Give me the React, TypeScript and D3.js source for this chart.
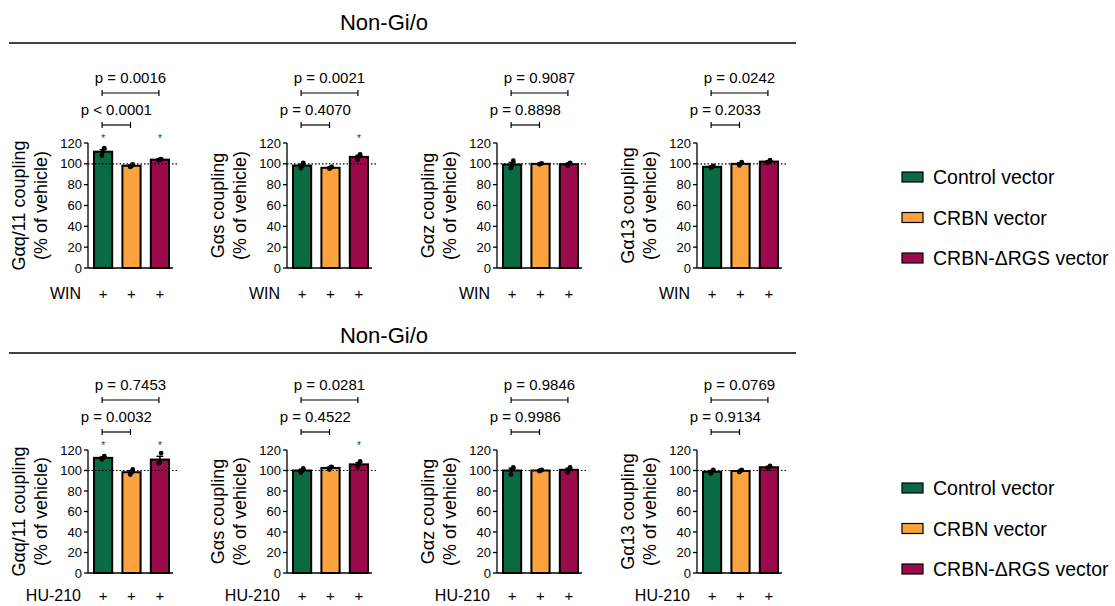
import React from 'react';
import * as d3 from 'd3';

// groups and colours
const groups = ['Control vector', 'CRBN vector', 'CRBN-ΔRGS vector'];
const colors = ['#0a6a44', '#fca23f', '#9c0a4c'];

const couplings = ['Gαq/11 coupling', 'Gαs coupling', 'Gαz coupling', 'Gα13 coupling'];
const yTicks = [0, 20, 40, 60, 80, 100, 120];

// individual replicate values (% of vehicle), per panel, per group
const winPoints = [
  [[108, 112, 115], [97, 98, 99.5], [103.5, 104, 104.5]],
  [[96, 98, 101], [95.5, 96, 97], [104, 107, 109]],
  [[96, 99, 103], [99.5, 100, 100.5], [98, 100, 101]],
  [[96.5, 97, 98], [98.5, 100, 101.5], [101, 102, 103.5]],
];
const huPoints = [
  [[111, 112, 114], [96, 98, 101], [107, 108, 117]],
  [[98, 100, 102], [101, 103, 103.5], [103, 106, 109]],
  [[96, 101, 103], [99.5, 100, 100.5], [98, 101, 103]],
  [[97, 99, 100.5], [98.5, 99.5, 100.5], [102, 103, 104.5]],
];

// p-values: [control vs CRBN, control vs CRBN-ΔRGS]
const winP = [
  ['p < 0.0001', 'p = 0.0016'],
  ['p = 0.4070', 'p = 0.0021'],
  ['p = 0.8898', 'p = 0.9087'],
  ['p = 0.2033', 'p = 0.0242'],
];
const huP = [
  ['p = 0.0032', 'p = 0.7453'],
  ['p = 0.4522', 'p = 0.0281'],
  ['p = 0.9986', 'p = 0.9846'],
  ['p = 0.9134', 'p = 0.0769'],
];

// significance stars vs vehicle
const winStars = [[1, 0, 1], [0, 0, 1], [0, 0, 0], [0, 0, 0]];
const huStars = [[1, 0, 1], [0, 0, 1], [0, 0, 0], [0, 0, 0]];

const FONT = "'Liberation Sans', Arial, Helvetica, sans-serif";
const axisXs = [88, 287, 497, 697];

const mean = (a: number[]) => d3.mean(a) as number;
const sem = (a: number[]) => (d3.deviation(a) as number) / Math.sqrt(a.length);

type RowProps = {
  points: number[][][];
  pvals: string[][];
  stars: number[][];
  drug: string;
  y0: number;
  y120: number;
  drugY: number;
  title: string;
  titleY: number;
  lineY: number;
  legendY: number;
};

const Panel = ({ ax, pts, pv, st, drug, y, drugY, label }: any) => {
  const x = d3.scaleBand<number>().domain([0, 1, 2]).range([ax + 6, ax + 81]).paddingInner(0.36).paddingOuter(0);
  const cx = (i: number) => (x(i) as number) + x.bandwidth() / 2;
  const [y0, y1] = y.range();
  const midY = (y0 + y1) / 2;
  const top = y(120);
  const brLow = top - 18;
  const brHigh = top - 50;
  return (
    <g>
      {/* y title */}
      <text transform={`translate(${ax - 69},${midY}) rotate(-90)`} textAnchor="middle" dominantBaseline="central" fontSize={18}>{label}</text>
      <text transform={`translate(${ax - 47},${midY}) rotate(-90)`} textAnchor="middle" dominantBaseline="central" fontSize={18}>(% of vehicle)</text>
      {/* bars */}
      {pts.map((p: number[], i: number) => {
        const m = mean(p);
        const s = sem(p);
        return (
          <g key={i}>
            <rect x={x(i)} y={y(m)} width={x.bandwidth()} height={y(0) - y(m)} fill={colors[i]} stroke="#000" strokeWidth={2} />
            <line x1={cx(i)} x2={cx(i)} y1={y(m - s)} y2={y(m + s)} stroke="#000" strokeWidth={1.5} />
            <line x1={cx(i) - 3.5} x2={cx(i) + 3.5} y1={y(m + s)} y2={y(m + s)} stroke="#000" strokeWidth={1.5} />
            {p.map((v, j) => (
              <circle key={j} cx={cx(i) + (j - 1) * 1.2} cy={y(v)} r={2.4} fill="#000" />
            ))}
            {st[i] ? (
              <text x={cx(i)} y={top - 1} textAnchor="middle" fontSize={10} fill="#333">*</text>
            ) : null}
            <text x={cx(i)} y={drugY} textAnchor="middle" fontSize={15}>+</text>
          </g>
        );
      })}
      {/* dotted reference line at 100 */}
      <line x1={ax} x2={ax + 91} y1={y(100)} y2={y(100)} stroke="#000" strokeWidth={1.2} strokeDasharray="1.5,2" />
      {/* axes */}
      <line x1={ax} x2={ax + 85} y1={y(0)} y2={y(0)} stroke="#000" strokeWidth={1.3} />
      <line x1={ax} x2={ax} y1={y(0)} y2={y(120)} stroke="#000" strokeWidth={1.3} />
      {yTicks.map((t) => (
        <g key={t}>
          <line x1={ax - 4} x2={ax} y1={y(t)} y2={y(t)} stroke="#000" strokeWidth={1.3} />
          <text x={ax - 6} y={y(t)} textAnchor="end" dominantBaseline="central" fontSize={13}>{t}</text>
        </g>
      ))}
      <text x={ax - 7} y={drugY} textAnchor="end" fontSize={16}>{drug}</text>
      {/* comparison brackets */}
      {[1, 2].map((k) => {
        const by = k === 1 ? brLow : brHigh;
        const x1 = cx(0) - 1;
        const x2 = cx(k) - 1;
        return (
          <g key={k}>
            <line x1={x1} x2={x2} y1={by} y2={by} stroke="#000" strokeWidth={1.2} />
            <line x1={x1} x2={x1} y1={by - 3} y2={by + 3} stroke="#000" strokeWidth={1.2} />
            <line x1={x2} x2={x2} y1={by - 3} y2={by + 3} stroke="#000" strokeWidth={1.2} />
            <text x={(x1 + x2) / 2} y={by - 10} textAnchor="middle" fontSize={15}>{pv[k - 1]}</text>
          </g>
        );
      })}
    </g>
  );
};

const Row = ({ points, pvals, stars, drug, y0, y120, drugY, title, titleY, lineY, legendY }: RowProps) => {
  const y = d3.scaleLinear().domain([0, 120]).range([y0, y120]);
  return (
    <g>
      <text x={384} y={titleY} textAnchor="middle" fontSize={22}>{title}</text>
      <line x1={9} x2={796} y1={lineY} y2={lineY} stroke="#000" strokeWidth={1.6} />
      {axisXs.map((ax, i) => (
        <Panel key={i} ax={ax} pts={points[i]} pv={pvals[i]} st={stars[i]} drug={drug} y={y} drugY={drugY} label={couplings[i]} />
      ))}
      {groups.map((g, i) => (
        <g key={g} transform={`translate(902,${legendY + i * 40.5})`}>
          <rect x={0} y={-5} width={21} height={10} fill={colors[i]} stroke="#000" strokeWidth={1.2} />
          <text x={31} y={0} dominantBaseline="central" fontSize={19.5}>{g}</text>
        </g>
      ))}
    </g>
  );
};

export default function App() {
  return (
    <svg width={1115} height={606} style={{ position: 'absolute', left: 0, top: 0, fontFamily: FONT }}>
      <rect width={1115} height={606} fill="#fff" />
      <Row points={winPoints} pvals={winP} stars={winStars} drug="WIN" y0={268} y120={143} drugY={299} title="Non-Gi/o" titleY={30} lineY={43} legendY={177} />
      <Row points={huPoints} pvals={huP} stars={huStars} drug="HU-210" y0={573} y120={450} drugY={601} title="Non-Gi/o" titleY={343} lineY={353} legendY={488} />
    </svg>
  );
}
